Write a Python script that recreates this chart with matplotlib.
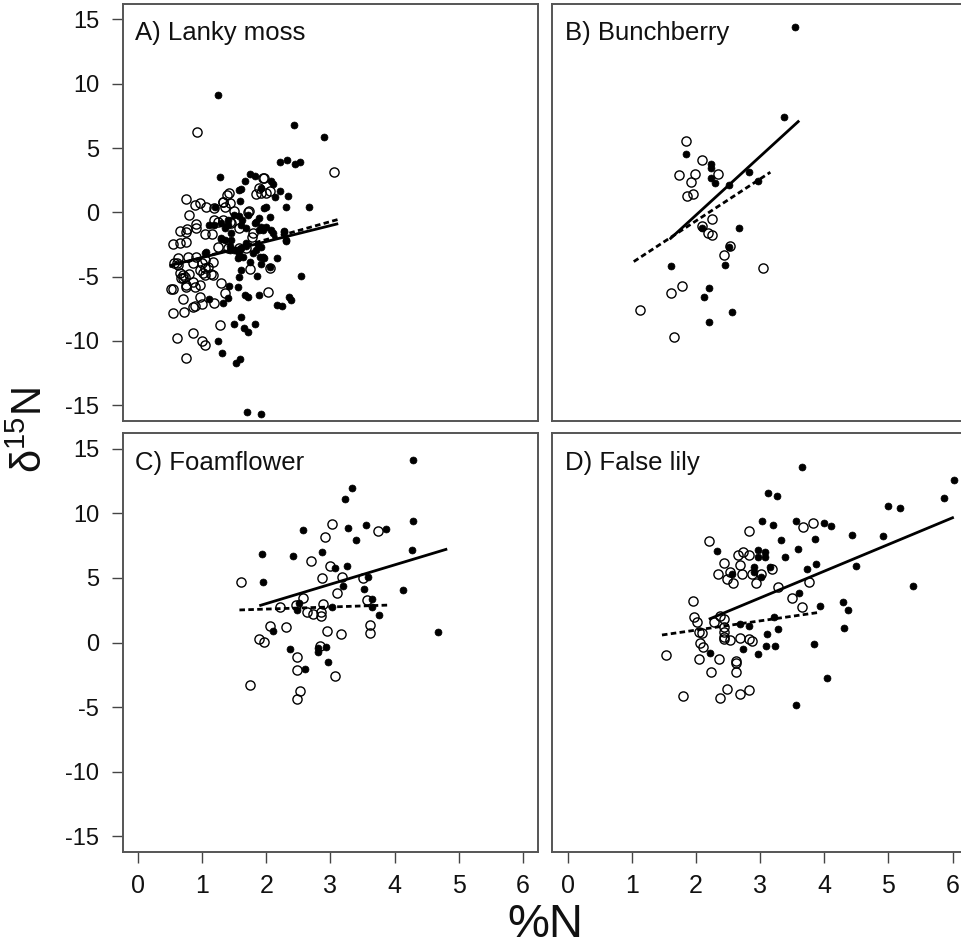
import matplotlib
matplotlib.use("Agg")
import matplotlib.pyplot as plt
from matplotlib import font_manager

names = {f.name for f in font_manager.fontManager.ttflist}
BASE = "Liberation Sans" if "Liberation Sans" in names else "DejaVu Sans"
NARROW = "Liberation Sans Narrow" if "Liberation Sans Narrow" in names else BASE
plt.rcParams["font.family"] = [BASE, "DejaVu Sans"]
plt.rcParams["mathtext.default"] = "regular"

# ---------------- data ----------------
panel_titles = ["A) Lanky moss", "B) Bunchberry", "C) Foamflower", "D) False lily"]
x_ticks = [0, 1, 2, 3, 4, 5, 6]
y_ticks = [-15, -10, -5, 0, 5, 10, 15]

a_filled_x = [1.25, 2.43, 2.90, 2.21, 2.32, 2.45, 2.52, 1.28, 1.74, 1.82, 1.67, 2.08, 2.11, 1.61, 1.92,
              2.21, 2.34, 2.14, 1.59, 1.20, 2.00, 1.96, 2.31, 2.66, 1.57, 1.62, 1.72, 1.88, 2.05, 1.11,
              1.19, 1.30, 1.35, 1.45, 1.40, 1.83, 1.92, 1.95, 2.08, 2.10, 2.28, 2.30, 1.29, 1.35, 1.06,
              1.04, 1.44, 1.49, 1.61, 1.69, 1.87, 1.92, 1.90, 1.97, 2.16, 1.55, 1.58, 1.91, 1.60, 1.57,
              1.85, 1.75, 2.54, 1.42, 1.55, 1.66, 1.71, 1.88, 2.36, 2.38, 2.16, 2.25, 1.33, 1.40, 1.11,
              1.61, 1.49, 1.65, 1.71, 1.83, 1.25, 1.31, 1.59, 1.53, 1.70, 1.92, 1.58, 1.40, 1.49, 1.61,
              1.69, 1.84, 1.89, 2.00, 2.28, 2.31, 1.30, 1.45, 1.53, 1.69, 1.84, 1.95, 2.05, 1.43, 1.63,
              1.79]
a_filled_y = [9.15, 6.77, 5.89, 3.94, 4.10, 3.74, 3.92, 2.75, 2.99, 2.85, 2.47, 2.44, 2.18, 1.80, 1.87,
              1.69, 1.28, 1.22, 0.91, 0.44, 0.40, 0.32, 0.40, 0.44, -0.30, -0.59, -0.20, -0.46, -0.33, -0.98,
              -0.98, -0.80, -1.24, -1.63, -1.00, -0.85, -1.11, -1.37, -1.37, -1.63, -1.45, -2.20, -2.07, -2.15, -3.05,
              -3.18, -2.61, -2.92, -2.79, -2.61, -2.53, -2.67, -3.44, -3.52, -3.52, -3.57, -3.23, -4.04, -4.48, -5.00,
              -4.95, -3.83, -4.92, -5.70, -5.83, -6.42, -6.55, -6.42, -6.55, -6.81, -7.20, -7.28, -7.07, -6.68, -6.73,
              -8.11, -8.68, -9.01, -9.28, -8.68, -9.98, -10.96, -11.42, -11.73, -15.54, -15.68, 1.74, -0.59, -0.20, -0.98,
              -1.24, -0.72, -1.37, -1.11, -1.50, -2.15, -2.01, -2.15, -2.92, -2.40, -2.92, -3.44, -4.22, -2.92, -3.44,
              -3.18]
a_open_x = [0.92, 3.06, 1.96, 2.06, 1.92, 1.84, 1.41, 1.38, 0.75, 0.88, 0.96, 1.06, 1.19, 1.33, 1.35,
            1.49, 1.73, 0.80, 1.19, 1.32, 1.45, 1.58, 0.76, 0.65, 0.91, 0.90, 1.04, 1.15, 1.79, 1.78,
            0.54, 0.65, 0.75, 1.24, 1.40, 1.58, 1.69, 0.62, 0.78, 0.91, 1.04, 1.17, 0.56, 0.62, 0.85,
            0.99, 1.09, 1.04, 0.96, 1.74, 2.05, 1.14, 1.04, 0.70, 0.67, 0.73, 0.80, 0.75, 0.88, 0.96,
            1.29, 0.52, 0.54, 1.35, 2.02, 0.70, 0.97, 1.19, 0.88, 0.99, 0.85, 0.54, 0.71, 1.28, 0.61,
            0.85, 0.99, 1.05, 0.74, 0.75, 1.24, 1.43, 1.71, 1.43, 1.32, 1.89, 2.00, 1.95, 0.60, 0.65,
            0.70, 0.85, 0.75, 1.01, 1.17]
a_open_y = [6.23, 3.14, 2.67, 1.69, 1.53, 1.43, 1.49, 1.35, 1.04, 0.60, 0.71, 0.40, 0.32, 0.83, 0.44,
            0.13, 0.11, -0.20, -0.59, -0.59, -0.85, -1.24, -1.31, -1.45, -1.24, -0.90, -1.70, -1.70, -1.58, -1.94,
            -2.46, -2.40, -2.28, -2.71, -2.79, -2.79, -2.79, -3.52, -3.44, -3.44, -3.70, -3.83, -3.96, -4.09, -3.96,
            -3.96, -4.22, -4.35, -4.48, -4.42, -4.30, -4.79, -4.87, -4.87, -5.12, -5.00, -4.79, -5.65, -5.78, -5.65,
            -5.51, -5.98, -5.98, -6.24, -6.21, -6.76, -6.55, -7.02, -7.28, -7.12, -7.38, -7.85, -7.77, -8.76, -9.74,
            -9.40, -9.98, -10.31, -11.35, -1.50, -0.72, -0.72, 0.05, 0.71, 0.83, 1.87, 1.49, 2.65, -3.96, -4.74,
            -5.12, -5.39, -5.78, -4.74, -4.87]

b_filled_x = [3.54, 3.37, 1.85, 2.23, 2.23, 2.24, 2.29, 2.51, 2.82, 2.96, 2.10, 2.67, 2.51, 1.61, 2.46,
              2.20, 2.12, 2.56, 2.20]
b_filled_y = [14.44, 7.44, 4.52, 3.76, 3.48, 2.65, 2.29, 2.13, 3.17, 2.47, -1.24, -1.19, -2.71, -4.14, -4.07,
              -5.88, -6.58, -7.74, -8.52]
b_open_x = [1.84, 2.09, 1.73, 1.99, 1.92, 2.35, 1.86, 1.96, 2.25, 2.10, 2.19, 2.25, 2.53, 2.44, 3.04,
            1.78, 1.61, 1.13, 1.66]
b_open_y = [5.58, 4.05, 2.93, 2.99, 2.34, 2.96, 1.28, 1.43, -0.54, -1.06, -1.58, -1.78, -2.61, -3.31, -4.32,
            -5.72, -6.24, -7.61, -9.71]

c_filled_x = [4.29, 3.34, 3.22, 4.29, 2.57, 3.28, 3.55, 3.86, 3.39, 4.27, 1.93, 2.42, 2.87, 3.07, 3.26,
              3.58, 1.94, 3.20, 3.53, 4.13, 3.64, 3.64, 3.75, 3.03, 2.51, 2.47, 2.10, 4.68, 2.37, 2.80,
              2.93, 2.80, 2.96, 2.61]
c_filled_y = [14.16, 11.94, 11.12, 9.41, 8.69, 8.87, 9.10, 8.77, 7.94, 7.19, 6.83, 6.72, 6.99, 5.77, 5.90,
              5.10, 4.66, 4.38, 4.14, 4.07, 3.35, 2.73, 2.15, 2.77, 3.08, 2.52, 0.89, 0.81, -0.48, -0.71,
              -0.35, -0.40, -1.49, -2.03]
c_open_x = [3.02, 2.92, 3.74, 2.69, 3.00, 2.86, 3.18, 3.51, 1.61, 3.10, 2.57, 3.57, 2.89, 2.21, 2.46,
            2.64, 2.73, 2.85, 2.85, 2.06, 2.30, 2.94, 3.17, 3.62, 3.62, 1.89, 1.97, 2.83, 2.48, 2.47,
            3.07, 1.74, 2.52, 2.47]
c_open_y = [9.20, 8.20, 8.61, 6.29, 5.90, 5.00, 5.10, 5.00, 4.66, 3.86, 3.47, 3.29, 3.01, 2.73, 2.88,
            2.39, 2.18, 2.34, 2.05, 1.28, 1.22, 0.91, 0.66, 1.36, 0.71, 0.27, 0.04, -0.27, -1.10, -2.13,
            -2.57, -3.29, -3.76, -4.35]

d_filled_x = [3.65, 6.02, 3.13, 3.26, 5.87, 5.00, 5.18, 3.03, 3.20, 3.56, 4.00, 4.10, 4.43, 4.92, 3.33,
              3.86, 2.33, 2.96, 3.08, 3.08, 2.96, 3.39, 3.59, 2.91, 3.16, 3.01, 2.91, 2.56, 3.87, 3.73,
              4.50, 5.38, 3.60, 3.93, 4.30, 4.37, 3.21, 2.69, 2.83, 3.28, 4.31, 3.11, 3.09, 3.23, 3.84,
              2.74, 2.22, 2.97, 4.05, 3.56]
d_filled_y = [13.59, 12.56, 11.58, 11.35, 11.22, 10.57, 10.42, 9.39, 9.10, 9.39, 9.28, 9.02, 8.33, 8.25, 7.94,
              8.02, 7.06, 7.17, 6.99, 6.60, 6.65, 6.60, 7.27, 5.87, 5.82, 5.10, 5.48, 5.31, 6.06, 5.67,
              5.93, 4.38, 3.86, 2.83, 3.14, 2.52, 1.98, 1.43, 1.30, 1.07, 1.15, 0.68, -0.25, -0.25, -0.14,
              -0.53, -0.81, -0.87, -2.72, -4.82]
d_open_x = [2.82, 3.67, 3.83, 2.20, 2.73, 2.65, 2.83, 2.44, 2.69, 2.35, 2.48, 2.58, 2.53, 2.71, 2.87,
            2.93, 3.01, 3.18, 3.28, 3.76, 3.50, 3.66, 1.95, 1.97, 2.01, 2.28, 2.37, 2.43, 2.04, 2.09,
            2.44, 2.44, 2.44, 2.44, 2.53, 2.69, 2.82, 2.87, 2.06, 2.11, 1.53, 2.05, 2.36, 2.62, 2.63,
            2.23, 2.63, 1.80, 2.48, 2.38, 2.68, 2.82]
d_open_y = [8.64, 8.95, 9.23, 7.84, 7.03, 6.75, 6.75, 6.18, 6.00, 5.28, 4.90, 4.61, 5.48, 5.31, 5.31,
            4.59, 5.31, 5.67, 4.28, 4.71, 3.47, 2.73, 3.19, 1.95, 1.59, 1.61, 2.05, 1.84, 0.79, 0.71,
            1.22, 0.84, 0.45, 0.25, 0.19, 0.37, 0.27, 0.12, -0.06, -0.37, -0.99, -1.25, -1.30, -1.41, -1.61,
            -2.31, -2.31, -4.12, -3.63, -4.28, -3.99, -3.68]

# fitted lines (end points): solid = filled points, dashed = open points
a_fit_solid_x, a_fit_solid_y = [0.49, 3.12], [-4.14, -0.88]
a_fit_dash_x, a_fit_dash_y = [0.49, 3.12], [-4.22, -0.55]
b_fit_solid_x, b_fit_solid_y = [1.59, 3.61], [-2.09, 7.13]
b_fit_dash_x, b_fit_dash_y = [1.03, 3.16], [-3.83, 3.12]
c_fit_solid_x, c_fit_solid_y = [1.89, 4.82], [2.85, 7.24]
c_fit_dash_x, c_fit_dash_y = [1.58, 3.92], [2.52, 2.90]
d_fit_solid_x, d_fit_solid_y = [2.20, 6.02], [1.80, 9.70]
d_fit_dash_x, d_fit_dash_y = [1.47, 3.93], [0.58, 2.34]

panels = [
    (a_filled_x, a_filled_y, a_open_x, a_open_y, a_fit_solid_x, a_fit_solid_y, a_fit_dash_x, a_fit_dash_y),
    (b_filled_x, b_filled_y, b_open_x, b_open_y, b_fit_solid_x, b_fit_solid_y, b_fit_dash_x, b_fit_dash_y),
    (c_filled_x, c_filled_y, c_open_x, c_open_y, c_fit_solid_x, c_fit_solid_y, c_fit_dash_x, c_fit_dash_y),
    (d_filled_x, d_filled_y, d_open_x, d_open_y, d_fit_solid_x, d_fit_solid_y, d_fit_dash_x, d_fit_dash_y),
]

# ---------------- figure ----------------
W, H = 962, 946
fig = plt.figure(figsize=(W / 100, H / 100), dpi=100)

def px_rect(x0, y0, x1, y1):
    return [x0 / W, 1 - y1 / H, (x1 - x0) / W, (y1 - y0) / H]

rects = [px_rect(122.7, 4.0, 538.3, 420.7), px_rect(552.3, 4.0, 967.9, 420.7),
         px_rect(122.7, 433.3, 538.3, 851.7), px_rect(552.3, 433.3, 967.9, 851.7)]

spine_col = "#555555"
for i, (rect, data, title) in enumerate(zip(rects, panels, panel_titles)):
    fx, fy, ox, oy, sx, sy, dx, dy = data
    ax = fig.add_axes(rect)
    ax.set_xlim(-0.24, 6.24)
    ax.set_ylim(-16.2, 16.2)
    ax.plot(ox, oy, linestyle="none", marker="o", markersize=6.6, markerfacecolor="none",
            markeredgecolor="black", markeredgewidth=1.0)
    ax.plot(fx, fy, linestyle="none", marker="o", markersize=5.0, markerfacecolor="black",
            markeredgecolor="black", markeredgewidth=0.5)
    ax.plot(sx, sy, color="black", linewidth=2.0, solid_capstyle="butt")
    ax.plot(dx, dy, color="black", linewidth=2.0, linestyle=(0, (2.0, 1.2)))
    for s in ax.spines.values():
        s.set_color(spine_col)
        s.set_linewidth(1.4)
    ax.text(0.03, 0.913, title, transform=ax.transAxes, fontsize=18.5, ha="left", va="baseline",
            color="#111111")
    ax.set_xticks(x_ticks)
    ax.set_yticks(y_ticks)
    ax.tick_params(axis="both", direction="out", length=8, width=1.0, color="#444444",
                   labelcolor="#111111")
    if i % 2 == 0:
        ax.tick_params(axis="y", labelsize=17, pad=9)
        ax.set_yticklabels([str(v) for v in y_ticks])
    else:
        ax.tick_params(axis="y", left=False, labelleft=False)
    if i >= 2:
        ax.tick_params(axis="x", labelsize=18, pad=8)
        ax.set_xticklabels([str(v) for v in x_ticks], fontfamily=NARROW)
    else:
        ax.tick_params(axis="x", bottom=False, labelbottom=False)

fig.text(545 / W, 1 - 925 / H, "%N", fontsize=34, ha="center", va="center", fontfamily=NARROW,
         color="#111111")
fig.text(31 / W, 1 - 430 / H, r"δ$^{15}$N", fontsize=30, ha="center", va="center",
         rotation=90, color="#111111")

fig.savefig("out.png", dpi=100)
